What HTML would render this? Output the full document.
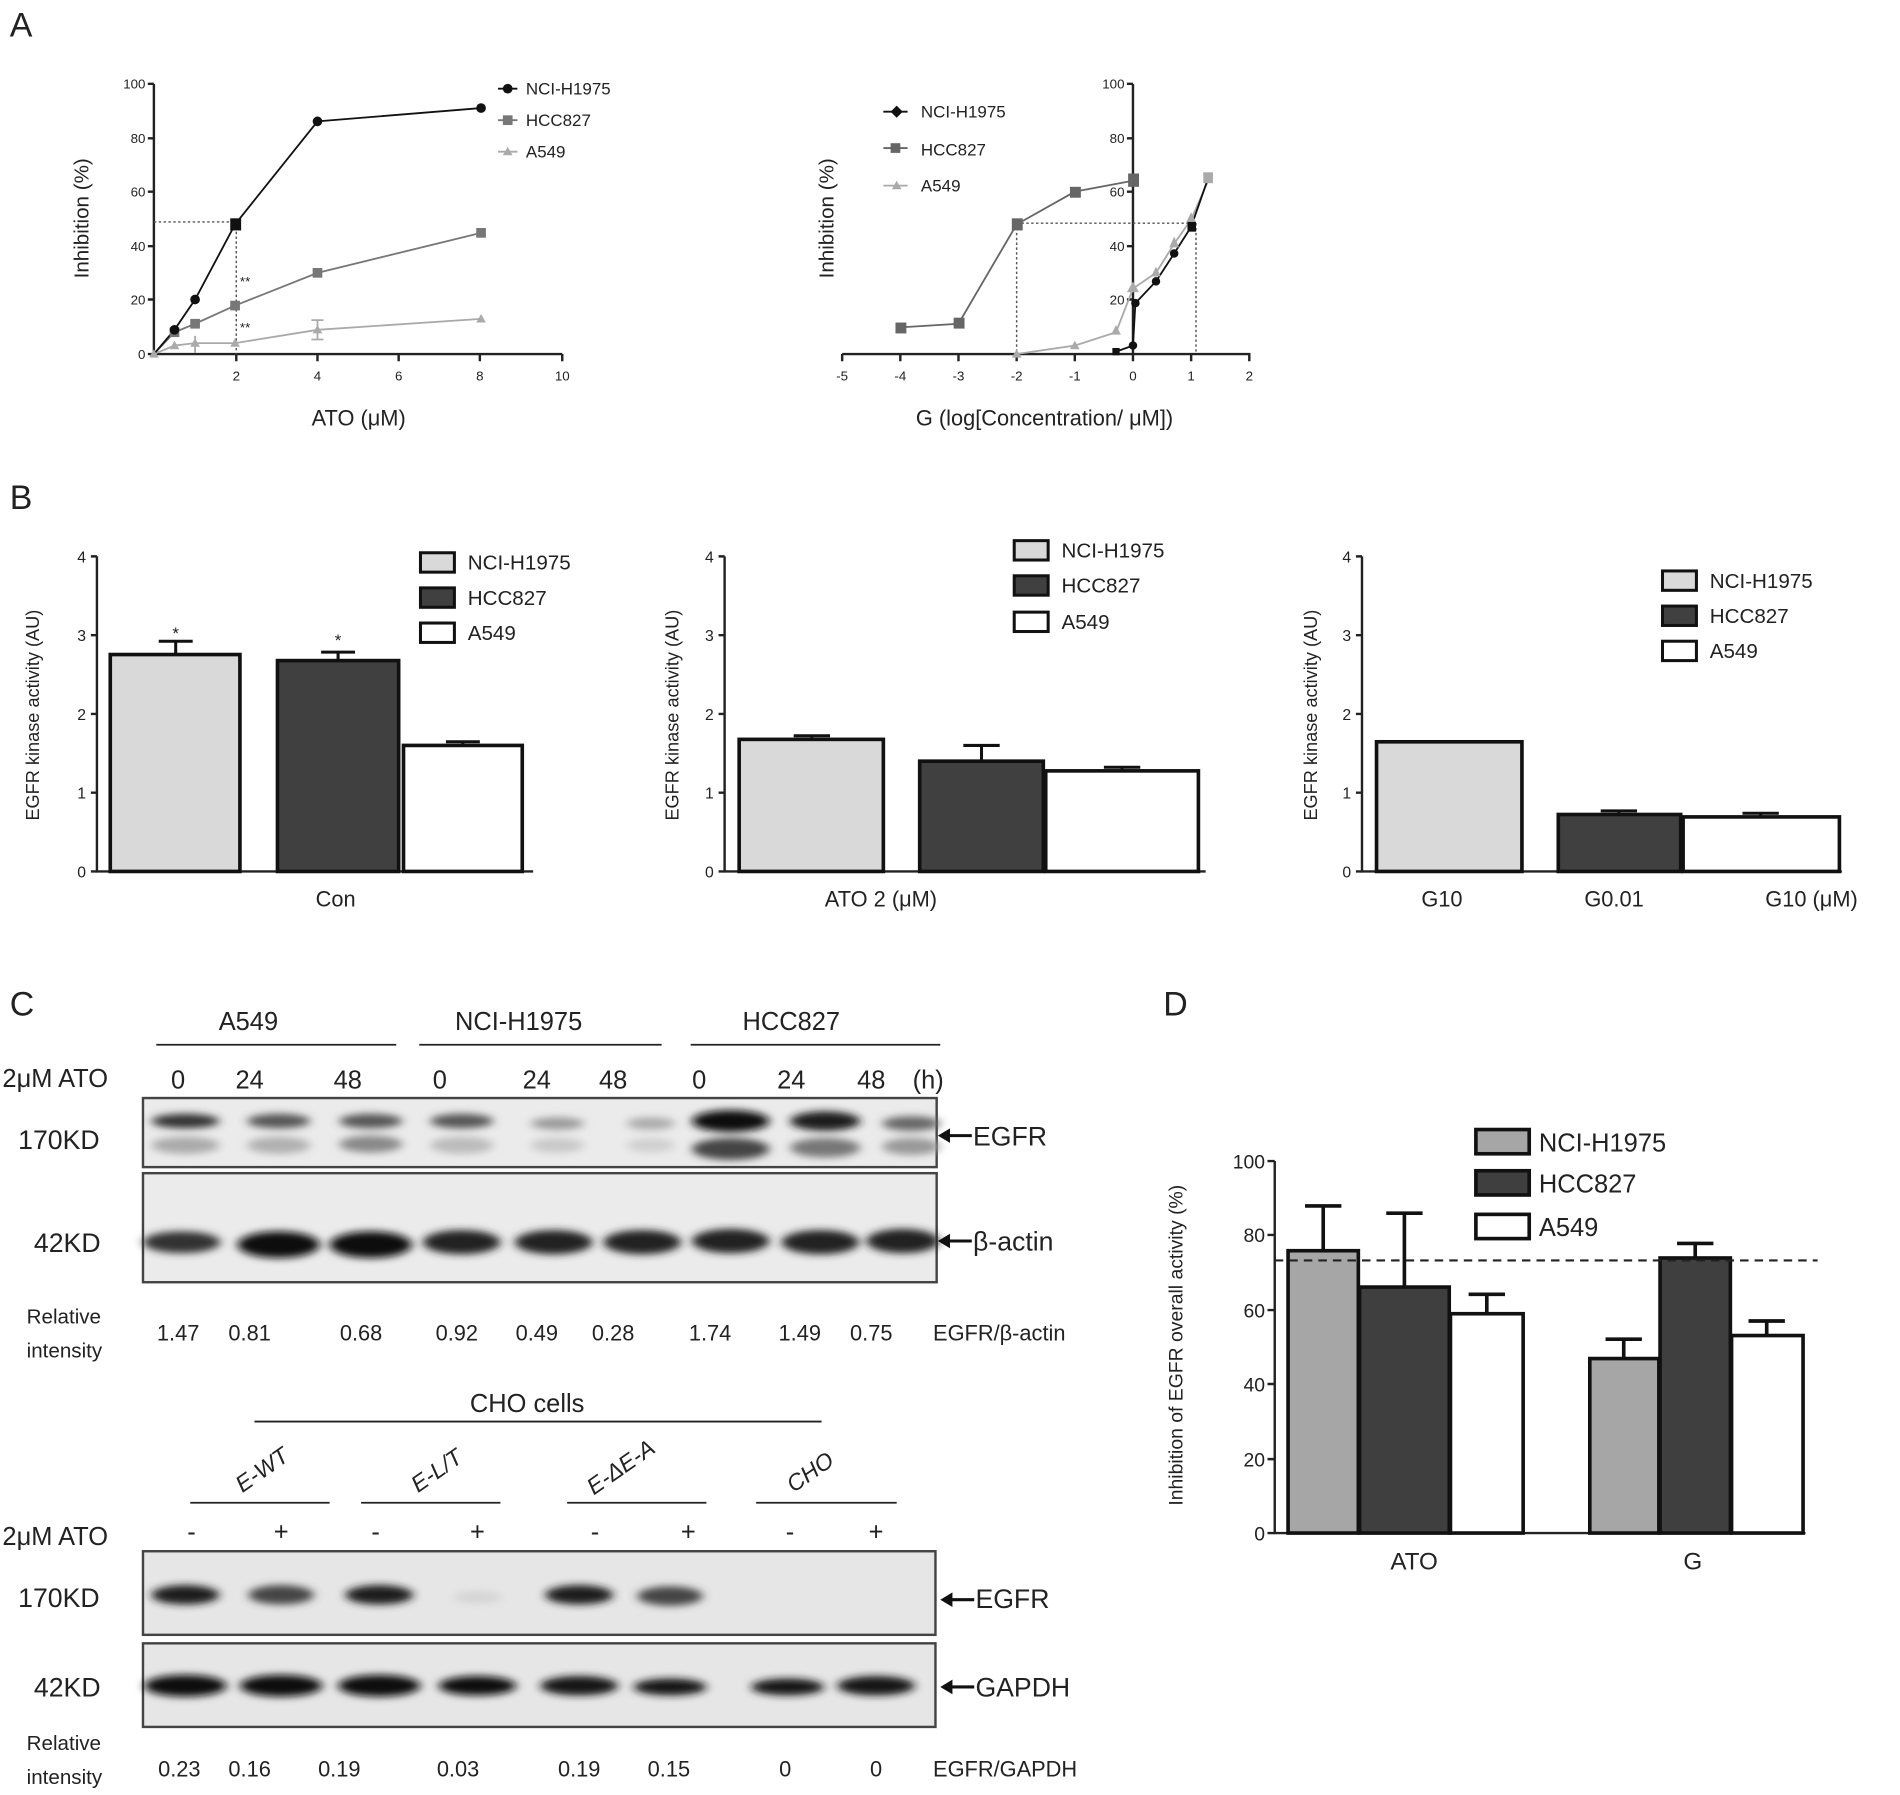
<!DOCTYPE html>
<html><head><meta charset="utf-8"><style>
html,body{margin:0;padding:0;background:#fff}
svg{display:block}
text{font-family:"Liberation Sans",sans-serif;fill:#222}
</style></head><body>
<svg width="1900" height="1795" viewBox="0 0 1568 1481" xmlns="http://www.w3.org/2000/svg">
<defs>
<filter id="bl" x="-30%" y="-100%" width="160%" height="300%"><feGaussianBlur stdDeviation="4 3"/></filter>
</defs>
<rect width="1568" height="1481" fill="#fff"/>

<!-- ===== Panel A ===== -->
<text x="8" y="30" font-size="28">A</text>
<g stroke="#222" stroke-width="2" fill="none">
<path d="M127 69 V292 H464"/>
<path d="M122 69H127M122 114H127M122 158H127M122 203H127M122 247H127M122 292H127"/>
<path d="M195 292v6M262 292v6M329 292v6M396 292v6M464 292v6"/>
</g>
<g font-size="11" text-anchor="end"><text x="120" y="73">100</text><text x="120" y="118">80</text><text x="120" y="162">60</text><text x="120" y="207">40</text><text x="120" y="251">20</text><text x="120" y="296">0</text></g>
<g font-size="11" text-anchor="middle"><text x="195" y="314">2</text><text x="262" y="314">4</text><text x="329" y="314">6</text><text x="396" y="314">8</text><text x="464" y="314">10</text></g>
<text transform="translate(73,180) rotate(-90)" font-size="17" text-anchor="middle">Inhibition (%)</text>
<text x="296" y="351" font-size="18" text-anchor="middle">ATO (μM)</text>
<path d="M127 183H195V292" stroke="#555" stroke-width="1.2" stroke-dasharray="2,2" fill="none"/>
<polyline points="127,292 144,285 161,283 194,283 262,272 397,263" fill="none" stroke="#aaa" stroke-width="1.5"/>
<polyline points="127,292 144,274 161,267 194,252 262,225 397,192" fill="none" stroke="#777" stroke-width="1.5"/>
<polyline points="127,292 144,272 161,247 194,185 262,100 397,89" fill="none" stroke="#111" stroke-width="1.5"/>
<g stroke="#aaa" stroke-width="1.5"><path d="M262 264v16M257 264h10M257 280h10M161 277v14"/></g>
<g fill="#aaa"><path d="M127 288l4 7h-8z"/><path d="M144 281l4 7h-8z"/><path d="M161 279l4 7h-8z"/><path d="M194 279l4 7h-8z"/><path d="M262 268l4 7h-8z"/><path d="M397 259l4 7h-8z"/></g>
<g fill="#777"><rect x="140" y="270" width="8" height="8"/><rect x="157" y="263" width="8" height="8"/><rect x="190" y="248" width="8" height="8"/><rect x="258" y="221" width="8" height="8"/><rect x="393" y="188" width="8" height="8"/></g>
<g fill="#111"><circle cx="144" cy="272" r="4"/><circle cx="161" cy="247" r="4"/><rect x="190" y="180" width="9" height="10"/><circle cx="262" cy="100" r="4"/><circle cx="397" cy="89" r="4"/></g>
<text x="198" y="236" font-size="11">**</text><text x="198" y="274" font-size="11">**</text>
<g font-size="14"><text x="434" y="78">NCI-H1975</text><text x="434" y="104">HCC827</text><text x="434" y="130">A549</text></g>
<circle cx="419" cy="73" r="4" fill="#111"/><path d="M411 73h16" stroke="#111" stroke-width="1.5"/>
<rect x="415" y="95" width="8" height="8" fill="#777"/><path d="M411 99h16" stroke="#777" stroke-width="1.5"/>
<path d="M419 121l4 7h-8z" fill="#aaa"/><path d="M411 125h16" stroke="#aaa" stroke-width="1.5"/>

<g stroke="#222" stroke-width="2" fill="none">
<path d="M935 69V292M695 292H1032"/>
<path d="M930 69H935M930 114H935M930 158H935M930 203H935M930 247H935"/>
<path d="M695 292v6M743 292v6M791 292v6M839 292v6M887 292v6M935 292v6M983 292v6M1031 292v6"/>
</g>
<g font-size="11" text-anchor="end"><text x="928" y="73">100</text><text x="928" y="118">80</text><text x="928" y="162">60</text><text x="928" y="207">40</text><text x="928" y="251">20</text></g>
<g font-size="11" text-anchor="middle"><text x="695" y="314">-5</text><text x="743" y="314">-4</text><text x="791" y="314">-3</text><text x="839" y="314">-2</text><text x="887" y="314">-1</text><text x="935" y="314">0</text><text x="983" y="314">1</text><text x="1031" y="314">2</text></g>
<text transform="translate(688,180) rotate(-90)" font-size="17" text-anchor="middle">Inhibition (%)</text>
<text x="862" y="351" font-size="18" text-anchor="middle">G (log[Concentration/ μM])</text>
<path d="M839 184H983M839 184V292M987 184V292" stroke="#555" stroke-width="1.2" stroke-dasharray="2,2" fill="none"/>
<polyline points="743,270 791,267 839,185 887,158 935,149" fill="none" stroke="#666" stroke-width="1.5"/>
<polyline points="839,292 887,285 921,274 935,238 954,225 969,201 983,181 997,149" fill="none" stroke="#aaa" stroke-width="1.5"/>
<polyline points="921,290 935,285 937,250 954,232 969,209 983,187 997,147" fill="none" stroke="#111" stroke-width="1.5"/>
<g fill="#666"><rect x="739" y="266" width="9" height="9"/><rect x="787" y="262" width="9" height="9"/><rect x="835" y="180" width="9" height="10"/><rect x="883" y="154" width="9" height="9"/><rect x="931" y="143" width="9" height="11"/></g>
<g fill="#aaa"><path d="M839 288l4 7h-8z"/><path d="M887 281l4 7h-8z"/><path d="M921 268l4 8h-8z"/><path d="M935 232l5 9h-10z"/><path d="M954 220l4 8h-8z"/><path d="M969 195l4 9h-8z"/><path d="M983 175l4 8h-8z"/><rect x="993" y="142" width="8" height="9"/></g>
<g fill="#111"><rect x="918" y="287" width="6" height="6"/><circle cx="935" cy="285" r="3.5"/><circle cx="937" cy="250" r="3.5"/><circle cx="954" cy="232" r="3.5"/><circle cx="969" cy="209" r="3.5"/><rect x="980" y="183" width="7" height="8"/></g>
<g font-size="14"><text x="760" y="97">NCI-H1975</text><text x="760" y="128">HCC827</text><text x="760" y="158">A549</text></g>
<path d="M740 87l5 5-5 5-5-5z" fill="#111"/><path d="M729 92h20" stroke="#111" stroke-width="1.5"/>
<rect x="735" y="118" width="8" height="8" fill="#666"/><path d="M729 122h20" stroke="#666" stroke-width="1.5"/>
<path d="M740 149l4 7h-8z" fill="#aaa"/><path d="M729 153h20" stroke="#aaa" stroke-width="1.5"/>

<!-- ===== Panel B ===== -->
<text x="8" y="420" font-size="28">B</text>
<g stroke="#222" stroke-width="2" fill="none">
<path d="M80 459V719H440"/><path d="M75 459h5M75 524h5M75 589h5M75 654h5M75 719h5"/>
<path d="M598 459V719H995"/><path d="M593 459h5M593 524h5M593 589h5M593 654h5M593 719h5"/>
<path d="M1124 459V719H1520"/><path d="M1119 459h5M1119 524h5M1119 589h5M1119 654h5M1119 719h5"/>
</g>
<g font-size="13" text-anchor="end">
<text x="71" y="464">4</text><text x="71" y="529">3</text><text x="71" y="594">2</text><text x="71" y="659">1</text><text x="71" y="724">0</text>
<text x="589" y="464">4</text><text x="589" y="529">3</text><text x="589" y="594">2</text><text x="589" y="659">1</text><text x="589" y="724">0</text>
<text x="1115" y="464">4</text><text x="1115" y="529">3</text><text x="1115" y="594">2</text><text x="1115" y="659">1</text><text x="1115" y="724">0</text>
</g>
<g font-size="15" text-anchor="middle">
<text transform="translate(32,590) rotate(-90)">EGFR kinase activity (AU)</text>
<text transform="translate(560,590) rotate(-90)">EGFR kinase activity (AU)</text>
<text transform="translate(1087,590) rotate(-90)">EGFR kinase activity (AU)</text>
</g>
<g stroke="#111" stroke-width="3">
<rect x="91" y="540" width="107" height="179" fill="#d9d9d9"/>
<rect x="229" y="545" width="100" height="174" fill="#404040"/>
<rect x="333" y="615" width="98" height="104" fill="#fff"/>
<rect x="610" y="610" width="119" height="109" fill="#d9d9d9"/>
<rect x="759" y="628" width="102" height="91" fill="#404040"/>
<rect x="863" y="636" width="126" height="83" fill="#fff"/>
<rect x="1136" y="612" width="120" height="107" fill="#d9d9d9"/>
<rect x="1286" y="672" width="101" height="47" fill="#404040"/>
<rect x="1389" y="674" width="129" height="45" fill="#fff"/>
</g>
<g stroke="#111" stroke-width="2.5" fill="none">
<path d="M145 540V529M131 529h28M279 545V538M265 538h28M382 615V612M368 612h28"/>
<path d="M670 610V607M655 607h30M810 628V615M795 615h30M926 636V633M911 633h30"/>
<path d="M1336 672V669M1321 669h30M1453 674V671M1438 671h30"/>
</g>
<text x="145" y="527" font-size="14" text-anchor="middle">*</text><text x="279" y="533" font-size="14" text-anchor="middle">*</text>
<g font-size="18" text-anchor="middle"><text x="277" y="748">Con</text><text x="727" y="748">ATO 2 (μM)</text><text x="1190" y="748">G10</text><text x="1332" y="748">G0.01</text><text x="1495" y="748">G10  (μM)</text></g>
<g stroke="#111" stroke-width="2.5">
<rect x="347" y="456" width="28" height="16" fill="#d9d9d9"/><rect x="347" y="485" width="28" height="16" fill="#404040"/><rect x="347" y="514" width="28" height="16" fill="#fff"/>
<rect x="837" y="446" width="28" height="16" fill="#d9d9d9"/><rect x="837" y="475" width="28" height="16" fill="#404040"/><rect x="837" y="505" width="28" height="16" fill="#fff"/>
<rect x="1372" y="471" width="28" height="16" fill="#d9d9d9"/><rect x="1372" y="500" width="28" height="16" fill="#404040"/><rect x="1372" y="529" width="28" height="16" fill="#fff"/>
</g>
<g font-size="17">
<text x="386" y="470">NCI-H1975</text><text x="386" y="499">HCC827</text><text x="386" y="528">A549</text>
<text x="876" y="460">NCI-H1975</text><text x="876" y="489">HCC827</text><text x="876" y="519">A549</text>
<text x="1411" y="485">NCI-H1975</text><text x="1411" y="514">HCC827</text><text x="1411" y="543">A549</text>
</g>

<!-- ===== Panel C ===== -->
<text x="8" y="838" font-size="28">C</text>
<g font-size="21" text-anchor="middle"><text x="205" y="850">A549</text><text x="428" y="850">NCI-H1975</text><text x="653" y="850">HCC827</text></g>
<g stroke="#222" stroke-width="1.5"><path d="M129 862h198M346 862h200M570 862h206"/></g>
<text x="2" y="897" font-size="21">2μM ATO</text>
<g font-size="21" text-anchor="middle"><text x="147" y="898">0</text><text x="206" y="898">24</text><text x="287" y="898">48</text><text x="363" y="898">0</text><text x="443" y="898">24</text><text x="506" y="898">48</text><text x="577" y="898">0</text><text x="653" y="898">24</text><text x="719" y="898">48</text><text x="766" y="898">(h)</text></g>
<rect x="118" y="906" width="655" height="57" fill="#ebebeb" stroke="#444" stroke-width="2"/>
<rect x="118" y="968" width="655" height="90" fill="#ebebeb" stroke="#444" stroke-width="2"/>
<g filter="url(#bl)">
<ellipse cx="153" cy="925" rx="28" ry="6" fill="#333"/><ellipse cx="153" cy="945" rx="28" ry="7" fill="#aaa"/>
<ellipse cx="230" cy="925" rx="26" ry="6" fill="#555"/><ellipse cx="230" cy="945" rx="26" ry="7" fill="#b0b0b0"/>
<ellipse cx="306" cy="925" rx="26" ry="6" fill="#555"/><ellipse cx="306" cy="944" rx="26" ry="7" fill="#888"/>
<ellipse cx="381" cy="925" rx="26" ry="6" fill="#555"/><ellipse cx="381" cy="945" rx="26" ry="7" fill="#bbb"/>
<ellipse cx="460" cy="927" rx="22" ry="5" fill="#999"/><ellipse cx="460" cy="945" rx="22" ry="6" fill="#c8c8c8"/>
<ellipse cx="537" cy="927" rx="20" ry="5" fill="#aaa"/><ellipse cx="537" cy="945" rx="20" ry="6" fill="#d0d0d0"/>
<ellipse cx="603" cy="925" rx="32" ry="9" fill="#111"/><ellipse cx="603" cy="948" rx="32" ry="9" fill="#444"/>
<ellipse cx="681" cy="925" rx="29" ry="8" fill="#1a1a1a"/><ellipse cx="681" cy="947" rx="29" ry="8" fill="#777"/>
<ellipse cx="752" cy="927" rx="24" ry="6" fill="#666"/><ellipse cx="752" cy="946" rx="24" ry="7" fill="#999"/>
<ellipse cx="150" cy="1025" rx="32" ry="9" fill="#333"/>
<ellipse cx="230" cy="1027" rx="34" ry="11" fill="#111"/>
<ellipse cx="306" cy="1027" rx="34" ry="11" fill="#111"/>
<ellipse cx="381" cy="1025" rx="32" ry="10" fill="#222"/>
<ellipse cx="457" cy="1025" rx="32" ry="10" fill="#222"/>
<ellipse cx="530" cy="1025" rx="32" ry="10" fill="#222"/>
<ellipse cx="603" cy="1024" rx="32" ry="10" fill="#222"/>
<ellipse cx="677" cy="1025" rx="32" ry="10" fill="#222"/>
<ellipse cx="745" cy="1024" rx="30" ry="10" fill="#222"/>
</g>
<text x="15" y="948" font-size="22">170KD</text><text x="28" y="1033" font-size="22">42KD</text>
<g stroke="#111" stroke-width="2.5"><path d="M782 937h20M782 1024h20M784 1320h20M784 1392h20"/></g>
<g fill="#111"><path d="M774 937l10-6v12z"/><path d="M774 1024l10-6v12z"/><path d="M776 1320l10-6v12z"/><path d="M776 1392l10-6v12z"/></g>
<text x="803" y="945" font-size="22">EGFR</text><text x="803" y="1032" font-size="22">β-actin</text>
<g font-size="17"><text x="22" y="1092">Relative</text><text x="22" y="1120">intensity</text></g>
<g font-size="18" text-anchor="middle"><text x="147" y="1106">1.47</text><text x="206" y="1106">0.81</text><text x="298" y="1106">0.68</text><text x="377" y="1106">0.92</text><text x="443" y="1106">0.49</text><text x="506" y="1106">0.28</text><text x="586" y="1106">1.74</text><text x="660" y="1106">1.49</text><text x="719" y="1106">0.75</text></g>
<text x="770" y="1106" font-size="18">EGFR/β-actin</text>

<text x="435" y="1165" font-size="21" text-anchor="middle">CHO cells</text>
<path d="M210 1173h468" stroke="#222" stroke-width="1.5"/>
<g font-size="19" font-style="italic">
<text transform="translate(200,1232) rotate(-35)">E-WT</text>
<text transform="translate(345,1232) rotate(-35)">E-L/T</text>
<text transform="translate(490,1234) rotate(-35)">E-ΔE-A</text>
<text transform="translate(655,1232) rotate(-35)">CHO</text>
</g>
<g stroke="#222" stroke-width="1.5"><path d="M157 1240h115M298 1240h115M468 1240h115M624 1240h116"/></g>
<text x="2" y="1275" font-size="21">2μM ATO</text>
<g font-size="21" text-anchor="middle"><text x="158" y="1271">-</text><text x="232" y="1271">+</text><text x="310" y="1271">-</text><text x="394" y="1271">+</text><text x="491" y="1271">-</text><text x="568" y="1271">+</text><text x="652" y="1271">-</text><text x="723" y="1271">+</text></g>
<rect x="118" y="1280" width="654" height="69" fill="#e6e6e6" stroke="#444" stroke-width="2"/>
<rect x="118" y="1356" width="654" height="69" fill="#e6e6e6" stroke="#444" stroke-width="2"/>
<g filter="url(#bl)">
<ellipse cx="153" cy="1316" rx="28" ry="8" fill="#1a1a1a"/>
<ellipse cx="232" cy="1316" rx="27" ry="8" fill="#444"/>
<ellipse cx="313" cy="1316" rx="28" ry="8" fill="#1a1a1a"/>
<ellipse cx="394" cy="1318" rx="20" ry="5" fill="#d4d4d4"/>
<ellipse cx="478" cy="1316" rx="28" ry="8" fill="#1a1a1a"/>
<ellipse cx="553" cy="1317" rx="27" ry="8" fill="#444"/>
<ellipse cx="153" cy="1391" rx="34" ry="9" fill="#111"/>
<ellipse cx="232" cy="1391" rx="34" ry="9" fill="#111"/>
<ellipse cx="313" cy="1391" rx="34" ry="9" fill="#111"/>
<ellipse cx="394" cy="1391" rx="32" ry="8" fill="#111"/>
<ellipse cx="478" cy="1391" rx="32" ry="8" fill="#151515"/>
<ellipse cx="553" cy="1392" rx="30" ry="7" fill="#151515"/>
<ellipse cx="650" cy="1392" rx="30" ry="7" fill="#151515"/>
<ellipse cx="723" cy="1391" rx="32" ry="8" fill="#151515"/>
</g>
<text x="15" y="1326" font-size="22">170KD</text><text x="28" y="1400" font-size="22">42KD</text>
<text x="805" y="1327" font-size="22">EGFR</text><text x="805" y="1400" font-size="22">GAPDH</text>
<g font-size="17"><text x="22" y="1444">Relative</text><text x="22" y="1472">intensity</text></g>
<g font-size="18" text-anchor="middle"><text x="148" y="1466">0.23</text><text x="206" y="1466">0.16</text><text x="280" y="1466">0.19</text><text x="378" y="1466">0.03</text><text x="478" y="1466">0.19</text><text x="552" y="1466">0.15</text><text x="648" y="1466">0</text><text x="723" y="1466">0</text></g>
<text x="770" y="1466" font-size="18">EGFR/GAPDH</text>

<!-- ===== Panel D ===== -->
<text x="960" y="838" font-size="28">D</text>
<g stroke="#222" stroke-width="2" fill="none">
<path d="M1052 958V1265H1490"/>
<path d="M1046 958h6M1046 1019h6M1046 1081h6M1046 1142h6M1046 1204h6M1046 1265h6"/>
</g>
<g font-size="16" text-anchor="end"><text x="1044" y="964">100</text><text x="1044" y="1025">80</text><text x="1044" y="1087">60</text><text x="1044" y="1148">40</text><text x="1044" y="1210">20</text><text x="1044" y="1271">0</text></g>
<text transform="translate(976,1110) rotate(-90)" font-size="16" text-anchor="middle">Inhibition of EGFR overall activity (%)</text>
<g stroke="#111" stroke-width="3">
<rect x="1063" y="1032" width="58" height="233" fill="#a6a6a6"/>
<rect x="1122" y="1062" width="74" height="203" fill="#3f3f3f"/>
<rect x="1197" y="1084" width="60" height="181" fill="#fff"/>
<rect x="1312" y="1121" width="57" height="144" fill="#a6a6a6"/>
<rect x="1370" y="1038" width="58" height="227" fill="#3f3f3f"/>
<rect x="1429" y="1102" width="59" height="163" fill="#fff"/>
</g>
<g stroke="#111" stroke-width="3" fill="none">
<path d="M1092 1032V995M1077 995h30M1159 1062V1001M1144 1001h30M1227 1084V1068M1212 1068h30"/>
<path d="M1340 1121V1105M1325 1105h30M1399 1038V1026M1384 1026h30M1458 1102V1090M1443 1090h30"/>
</g>
<path d="M1052 1040H1500" stroke="#222" stroke-width="1.8" stroke-dasharray="7,5"/>
<g font-size="20" text-anchor="middle"><text x="1167" y="1295">ATO</text><text x="1397" y="1295">G</text></g>
<g stroke="#111" stroke-width="3"><rect x="1218" y="932" width="44" height="20" fill="#a6a6a6"/><rect x="1218" y="966" width="44" height="20" fill="#3f3f3f"/><rect x="1218" y="1002" width="44" height="20" fill="#fff"/></g>
<g font-size="21"><text x="1270" y="950">NCI-H1975</text><text x="1270" y="984">HCC827</text><text x="1270" y="1020">A549</text></g>
</svg>
</body></html>
